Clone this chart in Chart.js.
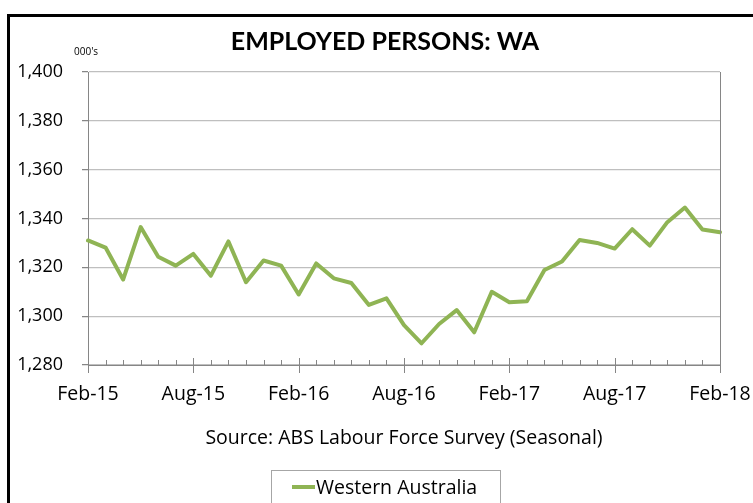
<!DOCTYPE html>
<html><head><meta charset="utf-8">
<script src="https://cdn.jsdelivr.net/npm/chart.js@4"></script>
<style>html,body{margin:0;padding:0;background:#fff;} #wrap{position:relative;width:753px;height:503px;}</style>
</head><body><div id="wrap"><canvas id="c" width="753" height="503"></canvas></div>
<script>
const months = ['Feb-15','Mar-15','Apr-15','May-15','Jun-15','Jul-15','Aug-15','Sep-15','Oct-15','Nov-15','Dec-15','Jan-16',
  'Feb-16','Mar-16','Apr-16','May-16','Jun-16','Jul-16','Aug-16','Sep-16','Oct-16','Nov-16','Dec-16','Jan-17',
  'Feb-17','Mar-17','Apr-17','May-17','Jun-17','Jul-17','Aug-17','Sep-17','Oct-17','Nov-17','Dec-17','Jan-18','Feb-18'];
const employedWA = [1331.0, 1328.1, 1315.0, 1336.5, 1324.3, 1320.7, 1325.5, 1316.6, 1330.6, 1313.9, 1322.8, 1320.7,
  1308.9, 1321.6, 1315.5, 1313.6, 1304.6, 1307.3, 1296.3, 1288.9, 1296.8, 1302.5, 1293.4, 1310.0,
  1305.7, 1306.1, 1318.9, 1322.4, 1331.2, 1330.0, 1327.7, 1335.6, 1328.9, 1338.5, 1344.5, 1335.5, 1334.4];
const yMin = 1280, yMax = 1400, yStep = 20;
const titleText = 'EMPLOYED PERSONS: WA';
const unitText = "000's";
const sourceText = 'Source: ABS Labour Force Survey (Seasonal)';
const seriesName = 'Western Australia';

const FONT = '"Open Sans", Lato, sans-serif';
const TFONT = 'Lato, "Open Sans", sans-serif';
const GREEN = '#8fb454';
const AXIS = '#868686';

const deco = {
  id: 'deco',
  beforeDraw(chart) {
    const c = chart.ctx;
    c.save();
    c.fillStyle = '#fff';
    c.fillRect(0, 0, chart.width, chart.height);
    c.restore();
  },
  afterDraw(chart) {
    const c = chart.ctx;
    const a = chart.chartArea;
    const xs = chart.scales.x;
    c.save();
    // plot right border
    c.strokeStyle = AXIS; c.lineWidth = 1;
    c.beginPath(); c.moveTo(Math.round(a.right) + 0.5, a.top); c.lineTo(Math.round(a.right) + 0.5, a.bottom); c.stroke();
    // x ticks
    for (let i = 0; i < months.length; i++) {
      const px = Math.round(xs.getPixelForTick(i)) + 0.5;
      c.beginPath();
      if (i % 6 === 0) { c.moveTo(px, a.bottom - 7); c.lineTo(px, a.bottom + 8); }
      else { c.moveTo(px, a.bottom - 5); c.lineTo(px, a.bottom); }
      c.stroke();
    }
    // title
    c.fillStyle = '#000';
    c.textAlign = 'center'; c.textBaseline = 'alphabetic';
    c.font = 'bold 25px ' + TFONT;
    c.fillText(titleText, 385, 50);
    c.font = '10px ' + FONT;
    c.textAlign = 'left';
    c.fillText(unitText, 74, 55);
    // legend
    c.strokeStyle = '#a6a6a6'; c.lineWidth = 1;
    c.strokeRect(271.5, 470.5, 229, 40);
    c.strokeStyle = GREEN; c.lineWidth = 4;
    c.beginPath(); c.moveTo(292, 487); c.lineTo(315, 487); c.stroke();
    c.fillStyle = '#000';
    c.font = '19.5px ' + FONT;
    c.fillText(seriesName, 316, 494);
    // outer frame
    c.fillStyle = '#000';
    c.fillRect(7, 14, chart.width - 7, 3);
    c.fillRect(7, 14, 3, chart.height - 14);
    c.restore();
  }
};

new Chart(document.getElementById('c'), {
  type: 'line',
  data: {
    labels: months,
    datasets: [{
      label: seriesName,
      data: employedWA,
      borderColor: GREEN,
      backgroundColor: GREEN,
      borderWidth: 4,
      pointRadius: 0,
      tension: 0,
      borderJoinStyle: 'round',
      borderCapStyle: 'round',
      fill: false
    }]
  },
  options: {
    responsive: false,
    animation: false,
    devicePixelRatio: 1,
    layout: { padding: { top: 72, right: 33, left: 0, bottom: 0 } },
    plugins: { legend: { display: false }, title: { display: false }, tooltip: { enabled: false } },
    scales: {
      x: {
        type: 'category',
        offset: false,
        grid: { display: true, drawOnChartArea: false, drawTicks: false, color: AXIS },
        border: { display: true, color: AXIS, width: 1 },
        ticks: {
          autoSkip: false, maxRotation: 0, minRotation: 0, padding: 18,
          font: { family: FONT, size: 19.5 }, color: '#000',
          callback: (v, i) => (i % 6 === 0 ? months[i] : '')
        },
        title: {
          display: true, text: sourceText,
          font: { family: FONT, size: 19.5 }, color: '#000',
          padding: { top: 0, bottom: 53 }
        },
        afterFit(s) { s.height = 138; s.paddingLeft = 0; s.paddingRight = 0; }
      },
      y: {
        min: yMin, max: yMax,
        ticks: {
          stepSize: yStep, padding: 19,
          font: { family: FONT, size: 18 }, color: '#000',
          callback: v => v.toLocaleString('en-US')
        },
        grid: { color: '#bfbfbf', lineWidth: 1.25, tickLength: 6, tickColor: AXIS },
        border: { display: true, color: AXIS, width: 1 },
        afterFit(s) { s.width = 88; s.paddingTop = 0; s.paddingBottom = 0; }
      }
    }
  },
  plugins: [deco]
});
</script>
</body></html>
